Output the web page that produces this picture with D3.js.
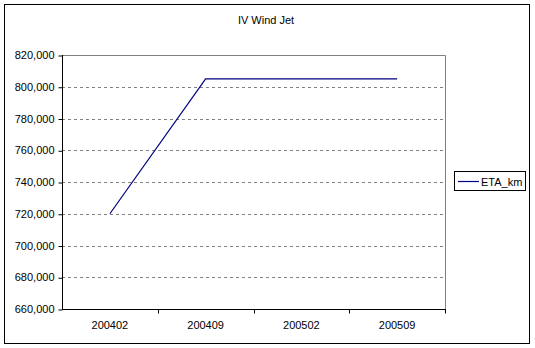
<!DOCTYPE html>
<html lang="en">
<head>
<meta charset="UTF-8">
<title>IV Wind Jet</title>
<script src="https://cdn.jsdelivr.net/npm/d3@7"></script>
<style>
  body { margin: 0; background: #fff; }
  text { font-family: "Liberation Sans", Arial, sans-serif; fill: #000; }
</style>
</head>
<body>
<script>
// data
var categories = ["200402", "200409", "200502", "200509"];
var etaKm = [720000, 805000, 805000, 805000];
var yTicks = [660000, 680000, 700000, 720000, 740000, 760000, 780000, 800000, 820000];
var seriesName = "ETA_km";
var title = "IV Wind Jet";

var width = 535, height = 348;
var plot = {left: 62, top: 55, right: 445, bottom: 309};

var svg = d3.select("body").append("svg")
    .attr("width", width)
    .attr("height", height);

// outer frame
svg.append("rect")
    .attr("x", 4.5).attr("y", 4.5)
    .attr("width", 525).attr("height", 339)
    .attr("fill", "#fff")
    .attr("stroke", "#000")
    .attr("stroke-width", 1);

var x = d3.scaleBand().domain(categories).range([plot.left, plot.right]);
var y = d3.scaleLinear().domain([660000, 820000]).range([plot.bottom, plot.top]);

// gridlines
svg.append("g").selectAll("line")
    .data(yTicks.filter(function (d) { return d > 660000 && d < 820000; }))
    .enter().append("line")
    .attr("x1", plot.left).attr("x2", plot.right)
    .attr("y1", function (d) { return Math.round(y(d)) + 0.5; })
    .attr("y2", function (d) { return Math.round(y(d)) + 0.5; })
    .attr("stroke", "#808080")
    .attr("stroke-dasharray", "3,3");

// plot border top & right (gray)
svg.append("path")
    .attr("d", "M" + plot.left + "," + (plot.top + 0.5) + "H" + (plot.right + 0.5) + "V" + plot.bottom)
    .attr("fill", "none")
    .attr("stroke", "#808080");

// y axis
var yAxis = d3.axisLeft(y)
    .tickValues(yTicks)
    .tickSize(4)
    .tickFormat(d3.format(","));
var gy = svg.append("g")
    .attr("transform", "translate(" + (plot.left + 0.5) + ",0)")
    .call(yAxis);
gy.selectAll("text").attr("font-size", 11).attr("x", -8);
gy.selectAll(".tick line").attr("transform", "translate(0,0.5)");
gy.select(".domain").attr("d", "M0," + plot.top + "V" + (plot.bottom + 0.5));

// x axis
var xAxis = d3.axisBottom(x).tickSize(0).tickPadding(12);
var gx = svg.append("g")
    .attr("transform", "translate(0," + (plot.bottom + 0.5) + ")")
    .call(xAxis);
gx.selectAll("text").attr("font-size", 11);
gx.select(".domain").attr("d", "M" + plot.left + ",0H" + (plot.right + 1));
gx.selectAll(".boundary")
    .data(categories.slice(1).concat(["end"]))
    .enter().append("line")
    .attr("x1", function (d, i) { return Math.round(plot.left + (i + 1) * x.step()) + 0.5; })
    .attr("x2", function (d, i) { return Math.round(plot.left + (i + 1) * x.step()) + 0.5; })
    .attr("y1", 0).attr("y2", 4)
    .attr("stroke", "#000");

// series line
var line = d3.line()
    .x(function (d, i) { return x(categories[i]) + x.bandwidth() / 2; })
    .y(function (d) { return y(d); });
svg.append("path")
    .datum(etaKm)
    .attr("d", line)
    .attr("fill", "none")
    .attr("stroke", "#000080")
    .attr("stroke-width", 1.2);

// title
svg.append("text")
    .attr("x", 266).attr("y", 24)
    .attr("text-anchor", "middle")
    .attr("font-size", 11)
    .text(title);

// legend
var lg = svg.append("g");
lg.append("rect")
    .attr("x", 454.5).attr("y", 171.5)
    .attr("width", 71).attr("height", 19)
    .attr("fill", "#fff").attr("stroke", "#000");
lg.append("line")
    .attr("x1", 458).attr("x2", 479)
    .attr("y1", 181.5).attr("y2", 181.5)
    .attr("stroke", "#000080").attr("stroke-width", 1.2);
lg.append("text")
    .attr("x", 481).attr("y", 185.5)
    .attr("font-size", 11)
    .text(seriesName);
</script>
</body>
</html>
